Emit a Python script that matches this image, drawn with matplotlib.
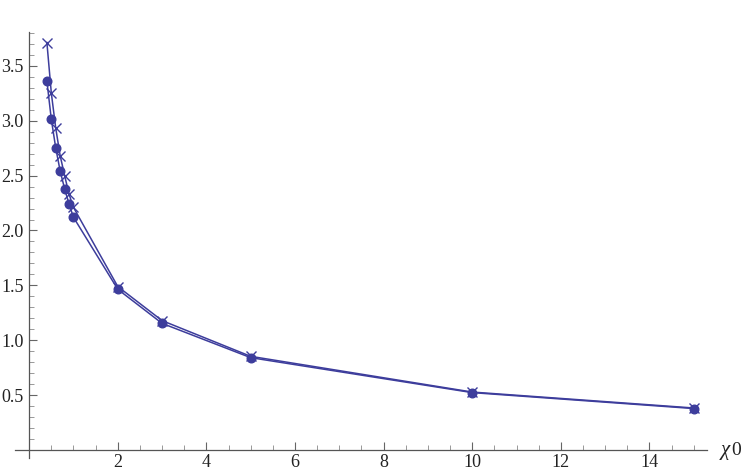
import matplotlib
matplotlib.use("Agg")
import matplotlib.pyplot as plt
from matplotlib.ticker import MultipleLocator, FixedLocator

plt.rcParams["font.family"] = "serif"
plt.rcParams["font.serif"] = ["Liberation Serif", "Times New Roman", "DejaVu Serif"]

x_vals = [0.4, 0.5, 0.6, 0.7, 0.8, 0.9, 1.0, 2, 3, 5, 10, 15]
dots_y = [3.36, 3.01, 2.75, 2.54, 2.38, 2.24, 2.12, 1.465, 1.155, 0.843, 0.525, 0.38]
cross_y = [3.71, 3.25, 2.93, 2.68, 2.50, 2.33, 2.21, 1.49, 1.18, 0.855, 0.53, 0.385]
x_ticks = [2, 4, 6, 8, 10, 12, 14]
y_ticks = [0.5, 1.0, 1.5, 2.0, 2.5, 3.0, 3.5]

color = "#3d3d9c"
W, H = 747, 474
fig = plt.figure(figsize=(W / 100, H / 100), dpi=100)
left_px, right_px, top_px, bottom_px = 15, 707, 32, 458
ax = fig.add_axes([left_px / W, 1 - bottom_px / H, (right_px - left_px) / W, (bottom_px - top_px) / H])

ax.plot(x_vals, dots_y, color=color, lw=1.1, marker="o", ms=6.2, mec=color, mfc=color)
ax.plot(x_vals, cross_y, color=color, lw=1.1, marker="x", ms=7, mew=1.0)

ax.set_xlim(-0.32, 15.3)
ax.set_ylim(-0.07, 3.806)

for s in ["top", "right"]:
    ax.spines[s].set_visible(False)
ax.spines["left"].set_position(("data", 0))
ax.spines["bottom"].set_position(("data", 0))
for s in ["left", "bottom"]:
    ax.spines[s].set_color("#555555")
    ax.spines[s].set_linewidth(0.9)

ax.xaxis.set_major_locator(FixedLocator(x_ticks))
ax.yaxis.set_major_locator(FixedLocator(y_ticks))
ax.xaxis.set_minor_locator(MultipleLocator(0.5))
ax.yaxis.set_minor_locator(MultipleLocator(0.1))
ax.set_xticklabels([str(v) for v in x_ticks])
ax.set_yticklabels([f"{v:.1f}" for v in y_ticks])

ax.tick_params(which="major", direction="in", length=6, width=0.8, color="#666666",
               labelsize=13, labelcolor="#222222")
ax.tick_params(which="minor", direction="in", length=3.5, width=0.6, color="#888888")
ax.tick_params(axis="x", which="major", pad=3)
ax.tick_params(axis="y", which="major", pad=4)

fig.text(721 / W, 1 - 455 / H, "χ", style="italic",
         fontsize=15, va="baseline", ha="left", color="#222222")
fig.text(731 / W, 1 - 455 / H, "0",
         fontsize=14, va="baseline", ha="left", color="#222222")

fig.savefig("out.png", dpi=100)
